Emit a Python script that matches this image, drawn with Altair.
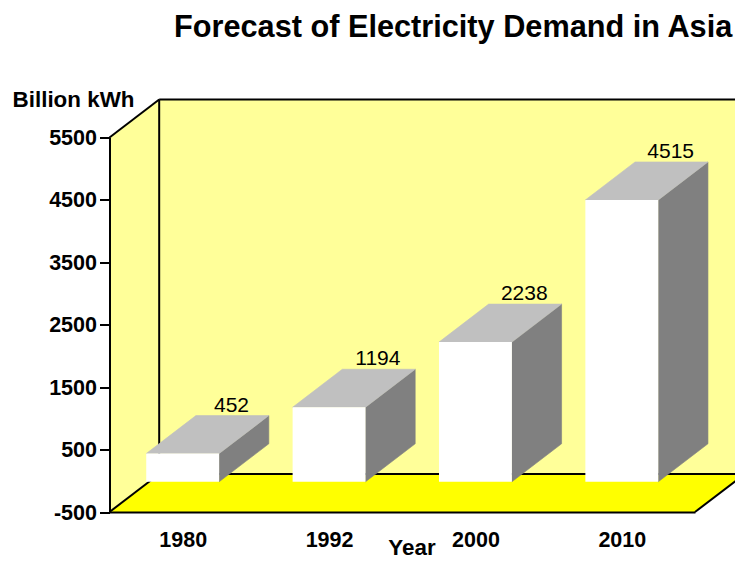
import altair as alt
import pandas as pd

years = ["1980", "1992", "2000", "2010"]
demand = [452, 1194, 2238, 4515]
y_ticks = [-500, 500, 1500, 2500, 3500, 4500, 5500]

FONT = "Liberation Sans"
XMIN, XMAX = -0.5, 3.5
YMIN, YMAX = -500, 5500
DX = 0.3395      # depth in category steps
DY = 609         # depth in value units
HALF = 0.249     # half a bar in category steps
NUDGE = -16      # the reference draws its bars a pixel below the axis scale

xs = alt.Scale(domain=[XMIN, XMAX], nice=False, zero=False)
ys = alt.Scale(domain=[YMIN, YMAX], nice=False, zero=False)

X = lambda f="x": alt.X(f"{f}:Q", scale=xs)
Y = lambda f="y": alt.Y(f"{f}:Q", scale=ys)
X2 = alt.X2("x2:Q")
Y2 = alt.Y2("y2:Q")

# axes carrier
axis_df = pd.DataFrame({"x": [XMIN, XMAX], "y": [YMIN, YMAX]})
label_expr = "[" + ",".join(f"'{v}'" for v in years) + "][datum.value]"
axes = alt.Chart(axis_df).mark_point(opacity=0).encode(
    x=alt.X("x:Q", scale=xs, axis=alt.Axis(
        values=[0, 1, 2, 3], labelExpr=label_expr, ticks=False, grid=False,
        domain=True, domainColor="black", domainWidth=2,
        labelFont=FONT, labelFontSize=21.5, labelFontWeight="bold", labelColor="black",
        labelPadding=17, labelAngle=0, labelFlush=False,
        title="Year", titleFont=FONT, titleFontSize=22.4, titleFontWeight="bold",
        titleColor="black", titleX=302, titleY=42, titleBaseline="alphabetic",
        titleAnchor="middle", zindex=1)),
    y=alt.Y("y:Q", scale=ys, axis=alt.Axis(
        values=y_ticks, ticks=True, tickSize=10, tickWidth=2, tickColor="black",
        grid=False, domain=True, domainColor="black", domainWidth=2,
        labelFont=FONT, labelFontSize=21.5, labelFontWeight="bold", labelColor="black",
        labelPadding=3, labelFlush=False, labelOverlap=False, labelOffset=1,
        labelExpr="'' + datum.value",
        title="Billion kWh", titleFont=FONT, titleFontSize=22.4, titleFontWeight="bold",
        titleColor="black", titleAngle=0, titleX=-36.5, titleY=-31, titleAlign="center",
        titleBaseline="alphabetic", zindex=1)),
)

# back wall
back = alt.Chart(pd.DataFrame({
    "x": [XMIN + DX], "x2": [XMAX + DX], "y": [YMIN + DY], "y2": [YMAX + DY]
})).mark_rect(color="#FFFF99").encode(x=X(), x2=X2, y=Y(), y2=Y2)

# left wall
left = alt.Chart(pd.DataFrame({
    "x": [XMIN, XMIN + DX], "y": [YMIN, YMIN + DY], "y2": [YMAX, YMAX + DY]
})).mark_area(color="#FFFF99", orient="vertical", line=False).encode(x=X(), y=Y(), y2=Y2)

# floor
floor = alt.Chart(pd.DataFrame({
    "y": [YMIN, YMIN + DY], "x": [XMIN, XMIN + DX], "x2": [XMAX, XMAX + DX]
})).mark_area(color="#FFFF00", orient="horizontal", line=False).encode(x=X(), x2=X2, y=Y())

# frame lines
seg = []
def add(name, p, q):
    seg.append({"s": name, "o": 0, "x": p[0], "y": p[1]})
    seg.append({"s": name, "o": 1, "x": q[0], "y": q[1]})
add("top", (XMIN + DX, YMAX + DY), (XMAX + DX, YMAX + DY))
add("back", (XMIN + DX, YMIN + DY), (XMIN + DX, YMAX + DY))
add("floorback", (XMIN + DX, YMIN + DY), (XMAX + DX, YMIN + DY))
add("dtop", (XMIN, YMAX), (XMIN + DX, YMAX + DY))
add("dbot", (XMIN, YMIN), (XMIN + DX, YMIN + DY))
add("dright", (XMAX, YMIN), (XMAX + DX, YMIN + DY))
lines = alt.Chart(pd.DataFrame(seg)).mark_line(color="black", strokeWidth=2).encode(
    x=X(), y=Y(), detail="s:N", order="o:Q")

# bars
front_rows, side_rows, top_rows, label_rows = [], [], [], []
for i, (yr, v) in enumerate(zip(years, demand)):
    a, b = i - HALF, i + HALF
    lo, hi = NUDGE, v + NUDGE
    front_rows.append({"cat": yr, "x": a, "x2": b, "y": lo, "y2": hi})
    side_rows += [{"cat": yr, "x": b, "y": lo, "y2": hi},
                  {"cat": yr, "x": b + DX, "y": lo + DY, "y2": hi + DY}]
    top_rows += [{"cat": yr, "y": hi, "x": a, "x2": b},
                 {"cat": yr, "y": hi + DY, "x": a + DX, "x2": b + DX}]
    label_rows.append({"x": i + DX - 0.006, "y": hi + DY, "t": str(v)})

side = alt.Chart(pd.DataFrame(side_rows)).mark_area(
    color="#808080", stroke="#808080", strokeWidth=0.6, orient="vertical"
).encode(x=X(), y=Y(), y2=Y2, detail="cat:N")
top = alt.Chart(pd.DataFrame(top_rows)).mark_area(
    color="#C0C0C0", stroke="#C0C0C0", strokeWidth=0.6, orient="horizontal"
).encode(x=X(), x2=X2, y=Y(), detail="cat:N")
front = alt.Chart(pd.DataFrame(front_rows)).mark_rect(color="#FFFFFF").encode(
    x=X(), x2=X2, y=Y(), y2=Y2)
labels = alt.Chart(pd.DataFrame(label_rows)).mark_text(
    font=FONT, fontSize=21, color="black", baseline="alphabetic", align="center", dy=-4
).encode(x=X(), y=Y(), text="t:N")

chart = alt.layer(axes, back, left, floor, lines, side, top, front, labels).properties(
    width=585.5,
    height=374.5,
    padding={"left": 101.5, "top": 129.5, "right": 40, "bottom": 47},
    autosize=alt.AutoSizeParams(type="none"),
    title=alt.TitleParams(
        "Forecast of Electricity Demand in Asia",
        font=FONT, fontSize=30.7, fontWeight="bold", color="black",
        anchor="start", frame="group", dx=64.5, offset=45,
    ),
).configure_view(stroke=None)

chart.save("out.html", embed_options={"renderer": "svg", "actions": False})
